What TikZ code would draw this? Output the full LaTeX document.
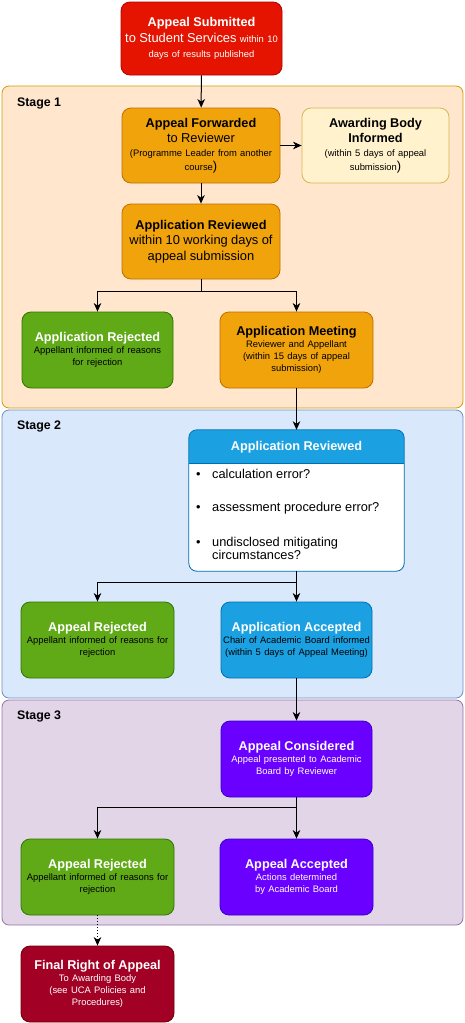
\documentclass[tikz,border=0pt]{standalone}
\usepackage{fontspec}
\setmainfont{Liberation Sans}
\usepackage{tikz}
\usetikzlibrary{arrows.meta}

\definecolor{redfill}{HTML}{E51400}
\definecolor{redline}{HTML}{B20000}
\definecolor{orangefill}{HTML}{F0A30A}
\definecolor{orangeline}{HTML}{BD7000}
\definecolor{creamfill}{HTML}{FFF2CC}
\definecolor{creamline}{HTML}{D6B656}
\definecolor{greenfill}{HTML}{60A917}
\definecolor{greenline}{HTML}{2D7600}
\definecolor{bluefill}{HTML}{1BA1E2}
\definecolor{blueline}{HTML}{006EAF}
\definecolor{purplefill}{HTML}{6A00FF}
\definecolor{purpleline}{HTML}{3700CC}
\definecolor{crimsonfill}{HTML}{A20025}
\definecolor{crimsonline}{HTML}{6F0000}
\definecolor{stageAfill}{HTML}{FFE6CC}
\definecolor{stageAline}{HTML}{D79B00}
\definecolor{stageBfill}{HTML}{DAE8FC}
\definecolor{stageBline}{HTML}{6C8EBF}
\definecolor{stageCfill}{HTML}{E1D5E7}
\definecolor{stageCline}{HTML}{9673A6}

\newcommand{\boxhead}[1]{{\fontsize{12.7}{15.5}\selectfont\bfseries #1\par}}
\newcommand{\boxline}[1]{{\fontsize{12.9}{15.5}\selectfont #1\par}}
\newcommand{\boxsmall}[1]{{\fontsize{9.4}{12.2}\selectfont #1\par}}

\begin{document}
\begin{tikzpicture}[
    x=1pt, y=-1pt,
    >={Stealth[length=8.5pt, width=7.5pt, inset=2.5pt]},
    stagebox/.style={rounded corners=7pt, line width=0.8pt},
    stagelabel/.style={anchor=west, font=\fontsize{12.4}{14}\selectfont\bfseries},
    flowbox/.style={
        rectangle,
        rounded corners=9pt,
        draw,
        line width=0.8pt,
        inner sep=0pt,
        align=center,
        minimum width=152pt,
        minimum height=76pt,
        text width=150pt
    },
    redbox/.style={flowbox, fill=redfill, draw=redline, text=white},
    orangebox/.style={flowbox, fill=orangefill, draw=orangeline, text=black},
    creambox/.style={flowbox, fill=creamfill, draw=creamline, text=black},
    greenbox/.style={flowbox, fill=greenfill, draw=greenline, text=white},
    bluebox/.style={flowbox, fill=bluefill, draw=blueline, text=white},
    purplebox/.style={flowbox, fill=purplefill, draw=purpleline, text=white},
    crimsonbox/.style={flowbox, fill=crimsonfill, draw=crimsonline, text=white},
    listitem/.style={anchor=base west, inner sep=0pt, font=\fontsize{12.8}{14}\selectfont},
    link/.style={->, line width=1pt, black}
]

\useasboundingbox (0,0) rectangle (465,1023);

% ---------------- STAGES ----------------

\filldraw[stagebox, fill=stageAfill, draw=stageAline] (2,86) rectangle (463,408);
\node[stagelabel] (stageA) at (13.5,103) {Stage 1};

\filldraw[stagebox, fill=stageBfill, draw=stageBline] (2,410) rectangle (463,698);
\node[stagelabel] (stageB) at (13.5,426) {Stage 2};

\filldraw[stagebox, fill=stageCfill, draw=stageCline] (2,700) rectangle (463,925);
\node[stagelabel] (stageC) at (13.5,716) {Stage 3};


% ---------------- BOXES ----------------

\node[redbox, minimum width=161pt, minimum height=73pt, text width=158pt] (submitted) at (201.5,38.5) {%
    \boxhead{Appeal Submitted}%
    \boxline{to Student Services {\fontsize{9.4}{12}\selectfont within 10}\\
    {\fontsize{9.4}{12}\selectfont days of results published}}};

% Stage 1
\node[orangebox, minimum width=158pt, minimum height=75pt, text width=154pt] (forwarded) at (201,145.5) {%
    \boxhead{Appeal Forwarded}%
    \boxline{to Reviewer}%
    {\fontsize{9.4}{14}\selectfont (Programme Leader from another\\
    course{\fontsize{12.9}{14}\selectfont)}\par}};

\node[creambox, minimum width=147pt, minimum height=75pt, text width=140pt] (awarding) at (375.5,145.5) {%
    \boxhead{Awarding Body\\ Informed}%
    {\fontsize{9.4}{14}\selectfont (within 5 days of appeal\\
    submission{\fontsize{12.9}{14}\selectfont)}\par}};

\node[orangebox, minimum width=158pt, minimum height=75pt, text width=154pt] (reviewedA) at (201,241.5) {%
    \boxhead{Application Reviewed}%
    \boxline{within 10 working days of\\ appeal submission}};

\node[greenbox, minimum width=151pt] (rejectedA) at (97.5,350) {%
    \boxhead{Application Rejected}%
    \boxsmall{\color{black}Appellant informed of reasons\\ for rejection}};

\node[orangebox, minimum width=153pt] (meeting) at (296.5,350) {%
    \boxhead{Application Meeting}%
    \boxsmall{Reviewer and Appellant\\ (within 15 days of appeal\\ submission)}};

% Stage 2
\node[minimum width=215pt, minimum height=141pt, inner sep=0pt] (reviewedB) at (296.5,500.5) {};
\coordinate (headbottom) at (296.5,463);
\fill[white, rounded corners=8pt] (reviewedB.south west) rectangle (reviewedB.north east);
\begin{scope}
    \clip[rounded corners=8pt] (reviewedB.south west) rectangle (reviewedB.north east);
    \fill[bluefill] (reviewedB.north west) rectangle (reviewedB.east |- headbottom);
\end{scope}
\draw[blueline, line width=0.8pt] (reviewedB.west |- headbottom) -- (reviewedB.east |- headbottom);
\draw[blueline, line width=0.8pt, rounded corners=8pt] (reviewedB.south west) rectangle (reviewedB.north east);
\node[text=white, font=\fontsize{12.7}{14}\selectfont\bfseries] (reviewedBhead) at (296.5,447) {Application Reviewed};

\node[listitem] (itemA) at (196,478.5) {\makebox[16pt][l]{\textbullet}calculation error?};
\node[listitem] (itemB) at (196,511.5) {\makebox[16pt][l]{\textbullet}assessment procedure error?};
\node[listitem] (itemC) at (196,546.5) {\makebox[16pt][l]{\textbullet}\begin{tabular}[t]{@{}l@{}}undisclosed mitigating\\[-1.5pt] circumstances?\end{tabular}};

\node[greenbox, minimum width=153pt] (rejectedB) at (97.5,640) {%
    \boxhead{Appeal Rejected}%
    \boxsmall{\color{black}Appellant informed of reasons for\\ rejection}};

\node[bluebox, minimum width=151pt] (accepted) at (296.5,640) {%
    \boxhead{Application Accepted}%
    \boxsmall{\color{black}Chair of Academic Board informed\\ (within 5 days of Appeal Meeting)}};

% Stage 3
\node[purplebox, minimum width=151pt] (considered) at (296.5,759) {%
    \boxhead{Appeal Considered}%
    \boxsmall{Appeal presented to Academic\\ Board by Reviewer}};

\node[greenbox, minimum width=153pt] (rejectedC) at (97.5,877) {%
    \boxhead{Appeal Rejected}%
    \boxsmall{\color{black}Appellant informed of reasons for\\ rejection}};

\node[purplebox, minimum width=153pt] (acceptedC) at (296.5,877) {%
    \boxhead{Appeal Accepted}%
    \boxsmall{Actions determined\\ by Academic Board}};

% Final
\node[crimsonbox, minimum width=153pt] (finalright) at (97.5,984) {%
    \boxhead{Final Right of Appeal}%
    \boxsmall{To Awarding Body\\ (see UCA Policies and\\ Procedures)}};


% ---------------- ARROWS ----------------

\draw[link] (submitted) -- (forwarded);
\draw[link] (forwarded) -- (awarding);
\draw[link] (forwarded) -- (reviewedA);

\draw[link] (reviewedA.south) -- ++(0,12) -| (rejectedA.north);
\draw[link] (reviewedA.south) -- ++(0,12) -| (meeting.north);

\draw[link] (meeting.south) -- (reviewedB.north);

\draw[link] (reviewedB.south) -- ++(0,11) -| (rejectedB.north);
\draw[link] (reviewedB.south) -- (accepted.north);

\draw[link] (accepted.south) -- (considered.north);

\draw[link] (considered.south) -- ++(0,10) -| (rejectedC.north);
\draw[link] (considered.south) -- (acceptedC.north);

\draw[link, dotted] (rejectedC.south) -- (finalright.north);

\end{tikzpicture}
\end{document}
